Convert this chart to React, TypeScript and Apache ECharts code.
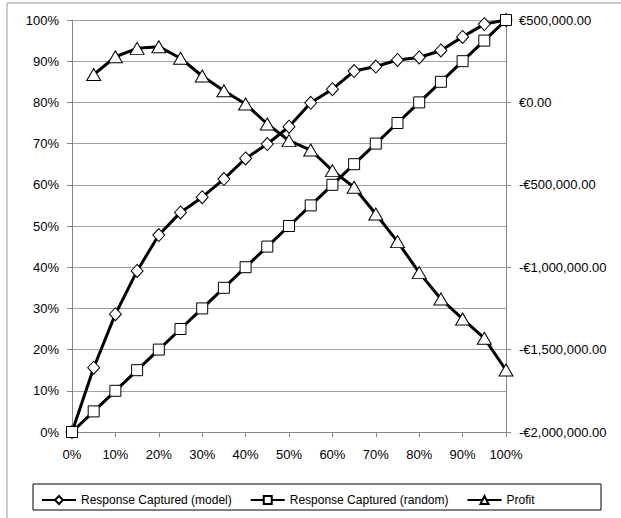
import React, { useEffect, useRef } from "react";
import * as echarts from "echarts";

const xs = [0, 0.05, 0.1, 0.15, 0.2, 0.25, 0.3, 0.35, 0.4, 0.45, 0.5, 0.55, 0.6, 0.65, 0.7, 0.75, 0.8, 0.85, 0.9, 0.95, 1];
const modelCaptured = [0, 0.156, 0.286, 0.391, 0.478, 0.533, 0.57, 0.614, 0.664, 0.699, 0.741, 0.799, 0.832, 0.876, 0.887, 0.903, 0.909, 0.926, 0.959, 0.99, 1];
const randomCaptured = [0, 0.05, 0.1, 0.15, 0.2, 0.25, 0.3, 0.35, 0.4, 0.45, 0.5, 0.55, 0.6, 0.65, 0.7, 0.75, 0.8, 0.85, 0.9, 0.95, 1];
const profit = [null, 169000, 277000, 328000, 338000, 268000, 160000, 71000, -10000, -131000, -232000, -289000, -414000, -515000, -677000, -845000, -1033000, -1193000, -1314000, -1431000, -1624000];
const seriesNames = ["Response Captured (model)", "Response Captured (random)", "Profit"];

const FONT = "'Liberation Sans', Arial, sans-serif";

function euro(v: number): string {
  const abs = Math.abs(v);
  const s = abs.toLocaleString("en-US", { minimumFractionDigits: 2, maximumFractionDigits: 2 });
  return (v < 0 ? "-" : "") + "€" + s;
}

export default function App() {
  const ref = useRef<HTMLDivElement>(null);
  useEffect(() => {
    if (!ref.current) return;
    const chart = echarts.init(ref.current, null, { renderer: "svg" });
    const lineStyle = { color: "#000", width: 3 };
    const itemStyle = { color: "#fff", borderColor: "#000", borderWidth: 1 };
    const label = { fontFamily: FONT, fontSize: 13, color: "#000", margin: 13 };
    chart.setOption({
      animation: false,
      textStyle: { fontFamily: FONT },
      grid: { left: 72, right: 115, top: 20, bottom: 86 },
      graphic: [
        { type: "rect", shape: { x: 7, y: 3, width: 700, height: 600 }, style: { fill: "none", stroke: "#9a9a9a", lineWidth: 1 }, silent: true },
        { type: "rect", shape: { x: 33, y: 484, width: 568, height: 26 }, style: { fill: "none", stroke: "#000", lineWidth: 1 }, silent: true },
      ],
      legend: {
        left: 36,
        top: 489,
        itemWidth: 34,
        itemHeight: 10,
        itemGap: 18,
        textStyle: { fontFamily: FONT, fontSize: 12, color: "#000" },
        data: seriesNames,
      },
      xAxis: {
        type: "value",
        min: 0,
        max: 1,
        interval: 0.1,
        axisLine: { show: true, lineStyle: { color: "#868686" } },
        axisTick: { show: true, length: 5, lineStyle: { color: "#868686" } },
        splitLine: { show: false },
        axisLabel: { ...label, margin: 16, formatter: (v: number) => Math.round(v * 100) + "%" },
      },
      yAxis: [
        {
          type: "value",
          min: 0,
          max: 1,
          interval: 0.1,
          axisLine: { show: true, lineStyle: { color: "#868686" } },
          axisTick: { show: true, length: 5, lineStyle: { color: "#868686" } },
          splitLine: { show: true, lineStyle: { color: "#a0a0a0", width: 1 } },
          axisLabel: { ...label, formatter: (v: number) => Math.round(v * 100) + "%" },
        },
        {
          type: "value",
          position: "right",
          min: -2000000,
          max: 500000,
          interval: 500000,
          axisLine: { show: true, lineStyle: { color: "#868686" } },
          axisTick: { show: true, length: 5, lineStyle: { color: "#868686" } },
          splitLine: { show: false },
          axisLabel: { ...label, formatter: (v: number) => euro(v) },
        },
      ],
      series: [
        {
          name: seriesNames[0],
          type: "line",
          yAxisIndex: 0,
          data: xs.map((x, i) => [x, modelCaptured[i]]),
          symbol: "diamond",
          symbolSize: [12, 13],
          showAllSymbol: true,
          lineStyle,
          itemStyle,
        },
        {
          name: seriesNames[1],
          type: "line",
          yAxisIndex: 0,
          data: xs.map((x, i) => [x, randomCaptured[i]]),
          symbol: "rect",
          symbolSize: 11,
          showAllSymbol: true,
          lineStyle,
          itemStyle,
        },
        {
          name: seriesNames[2],
          type: "line",
          yAxisIndex: 1,
          data: xs.map((x, i) => [x, profit[i]]).filter((d) => d[1] !== null),
          symbol: "triangle",
          symbolSize: [14, 12],
          showAllSymbol: true,
          lineStyle,
          itemStyle,
        },
      ],
    });
    return () => chart.dispose();
  }, []);
  return <div ref={ref} style={{ position: "fixed", left: 0, top: 0, width: 621, height: 518, background: "#fff" }} />;
}
